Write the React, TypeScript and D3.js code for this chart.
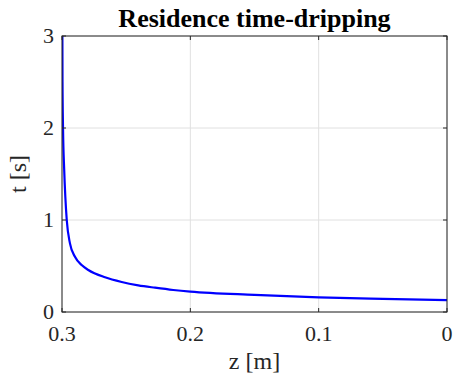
import React from "react";
import * as d3 from "d3";

const zValues = [0.29995, 0.2997, 0.2996, 0.2992, 0.2983, 0.2974, 0.2963, 0.2938, 0.2899, 0.2847, 0.2795, 0.2665, 0.2535, 0.2406, 0.2275, 0.2133, 0.2, 0.15, 0.1, 0.05, 0.0];
const tValues = [3.6, 3.0, 2.5, 2.0, 1.55, 1.25, 1.0, 0.746, 0.6, 0.51, 0.457, 0.377, 0.326, 0.29, 0.264, 0.239, 0.221, 0.186, 0.16, 0.143, 0.13];
const xTicks = [0.3, 0.2, 0.1, 0];
const yTicks = [0, 1, 2, 3];
const title = "Residence time-dripping";
const xLabel = "z [m]";
const yLabel = "t [s]";

const W = 459;
const H = 383;
const m = { left: 62, right: 12, top: 36, bottom: 71 };
const axisColor = "#262626";
const gridColor = "#e0e0e0";
const font = "Liberation Serif";

export default function App() {
  const x = d3.scaleLinear().domain([0.3, 0]).range([m.left, W - m.right]);
  const y = d3.scaleLinear().domain([0, 3]).range([H - m.bottom, m.top]);
  const data = zValues.map((z, i) => ({ z, t: tValues[i] }));
  const line = d3
    .line<{ z: number; t: number }>()
    .x((d) => x(d.z))
    .y((d) => y(d.t))
    .curve(d3.curveMonotoneX);
  const x0 = m.left, x1 = W - m.right, y0 = H - m.bottom, y1 = m.top;
  const tl = 4;
  return (
    <svg width={W} height={H} style={{ position: "absolute", left: 0, top: 0, background: "#fff" }}>
      <defs>
        <clipPath id="plot">
          <rect x={x0} y={y1} width={x1 - x0} height={y0 - y1} />
        </clipPath>
      </defs>
      <rect x={0} y={0} width={W} height={H} fill="#fff" />
      {xTicks.map((v) => (
        <line key={"gx" + v} x1={x(v)} x2={x(v)} y1={y0} y2={y1} stroke={gridColor} strokeWidth={1} />
      ))}
      {yTicks.map((v) => (
        <line key={"gy" + v} x1={x0} x2={x1} y1={y(v)} y2={y(v)} stroke={gridColor} strokeWidth={1} />
      ))}
      <path d={line(data) || ""} fill="none" stroke="#0000ff" strokeWidth={2.2} clipPath="url(#plot)" />
      <rect x={x0} y={y1} width={x1 - x0} height={y0 - y1} fill="none" stroke={axisColor} strokeWidth={1} />
      {xTicks.map((v) => (
        <g key={"tx" + v}>
          <line x1={x(v)} x2={x(v)} y1={y0} y2={y0 - tl} stroke={axisColor} />
          <line x1={x(v)} x2={x(v)} y1={y1} y2={y1 + tl} stroke={axisColor} />
          <text x={x(v)} y={341} textAnchor="middle" fontFamily={font} fontSize={22} fill={axisColor}>
            {String(v)}
          </text>
        </g>
      ))}
      {yTicks.map((v) => (
        <g key={"ty" + v}>
          <line x1={x0} x2={x0 + tl} y1={y(v)} y2={y(v)} stroke={axisColor} />
          <line x1={x1} x2={x1 - tl} y1={y(v)} y2={y(v)} stroke={axisColor} />
          <text x={54} y={y(v) + 7} textAnchor="end" fontFamily={font} fontSize={22} fill={axisColor}>
            {String(v)}
          </text>
        </g>
      ))}
      <text x={(x0 + x1) / 2} y={27} textAnchor="middle" fontFamily={font} fontSize={26} fontWeight="bold" fill="#000">
        {title}
      </text>
      <text x={(x0 + x1) / 2} y={369} textAnchor="middle" fontFamily={font} fontSize={24} fill={axisColor}>
        {xLabel}
      </text>
      <text
        transform={`translate(26, ${(y0 + y1) / 2}) rotate(-90)`}
        textAnchor="middle"
        fontFamily={font}
        fontSize={24}
        fill={axisColor}
      >
        {yLabel}
      </text>
    </svg>
  );
}
